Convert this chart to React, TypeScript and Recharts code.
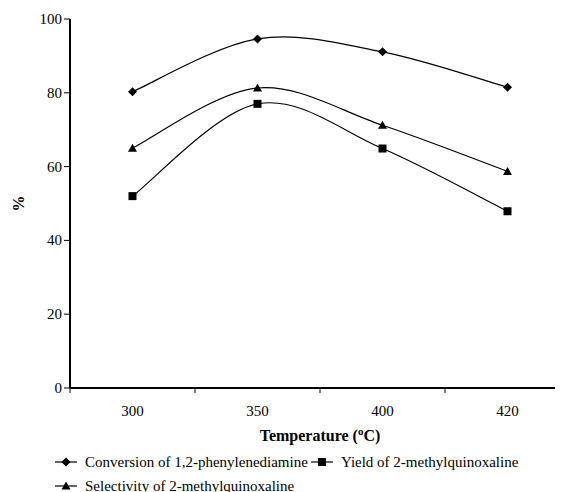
import React from "react";
import { LineChart, Line, XAxis, YAxis, Legend } from "recharts";

const temps = ["300", "350", "400", "420"];
const conversion = [80.3, 94.6, 91.1, 81.5];
const yieldVals = [52.0, 77.0, 64.9, 47.9];
const selectivity = [65.0, 81.3, 71.2, 58.7];
const yTicks = [0, 20, 40, 60, 80, 100];

const FONT = "Liberation Serif, Times New Roman, serif";

const data = temps.map((t, i) => ({
  idx: i,
  temp: t,
  conversion: conversion[i],
  yield: yieldVals[i],
  selectivity: selectivity[i],
}));

// Excel-like smoothing (Catmull-Rom through the points)
const excelSmooth = (ctx: any) => {
  let pts: [number, number][] = [];
  return {
    areaStart() {},
    areaEnd() {},
    lineStart() {
      pts = [];
    },
    point(x: number, y: number) {
      pts.push([+x, +y]);
    },
    lineEnd() {
      if (!pts.length) return;
      ctx.moveTo(pts[0][0], pts[0][1]);
      for (let i = 0; i < pts.length - 1; i++) {
        const p0 = pts[Math.max(i - 1, 0)];
        const p1 = pts[i];
        const p2 = pts[i + 1];
        const p3 = pts[Math.min(i + 2, pts.length - 1)];
        ctx.bezierCurveTo(
          p1[0] + (p2[0] - p0[0]) / 6,
          p1[1] + (p2[1] - p0[1]) / 6,
          p2[0] - (p3[0] - p1[0]) / 6,
          p2[1] - (p3[1] - p1[1]) / 6,
          p2[0],
          p2[1]
        );
      }
    },
  };
};

function Marker({ shape, cx, cy }: { shape: string; cx: number; cy: number }) {
  if (shape === "square") {
    return <rect x={cx - 4} y={cy - 4} width={8} height={8} fill="#000" />;
  }
  if (shape === "triangle") {
    return <polygon points={`${cx},${cy - 4.5} ${cx + 4.5},${cy + 3.5} ${cx - 4.5},${cy + 3.5}`} fill="#000" />;
  }
  return <polygon points={`${cx},${cy - 4.5} ${cx + 4.5},${cy} ${cx},${cy + 4.5} ${cx - 4.5},${cy}`} fill="#000" />;
}

const makeDot = (shape: string) => (p: any) =>
  <Marker key={`${shape}-${p.index}`} shape={shape} cx={p.cx} cy={p.cy} />;

const XTick = (props: any) => {
  const { x, y, payload } = props;
  const v = payload.value;
  if (Number.isInteger(v)) {
    return (
      <text x={x} y={y} dy={23} textAnchor="middle" fontSize={15} style={{ fontFamily: FONT }} fill="#000">
        {temps[v]}
      </text>
    );
  }
  return <line x1={x} x2={x} y1={y - 5} y2={y} stroke="#000" strokeWidth={1} />;
};

const YTick = (props: any) => {
  const { x, y, payload } = props;
  return (
    <text x={x} y={y} dy={5} textAnchor="end" fontSize={15} style={{ fontFamily: FONT }} fill="#000">
      {payload.value}
    </text>
  );
};

const TempLabel = (props: any) => {
  const { x, y, width } = props.viewBox;
  return (
    <text x={x + width / 2} y={y + 53} textAnchor="middle" fontSize={16} fontWeight="bold"
          style={{ fontFamily: FONT }} fill="#000">
      Temperature (<tspan fontSize={11} dy={-6}>o</tspan>
      <tspan dy={6}>C)</tspan>
    </text>
  );
};

const PctLabel = (props: any) => {
  const { y, height } = props.viewBox;
  const cx = 10;
  const cy = y + height / 2;
  return (
    <text x={cx} y={cy} transform={`rotate(-90 ${cx} ${cy})`} textAnchor="middle" dominantBaseline="central"
          fontSize={16} fontWeight="bold" style={{ fontFamily: FONT }} fill="#000">
      %
    </text>
  );
};

const legendItems = [
  { name: "Conversion of 1,2-phenylenediamine", shape: "diamond" },
  { name: "Yield of 2-methylquinoxaline", shape: "square" },
  { name: "Selectivity of 2-methylquinoxaline", shape: "triangle" },
];

const renderLegend = () => (
  <div style={{ display: "flex", flexWrap: "wrap", paddingLeft: 47, paddingTop: 2, fontFamily: FONT, fontSize: 15 }}>
    {legendItems.map((it) => (
      <div key={it.name} style={{ display: "flex", alignItems: "center", height: 24, marginRight: 3 }}>
        <svg width={22} height={10} style={{ marginRight: 8 }}>
          <line x1={0} x2={22} y1={5} y2={5} stroke="#000" strokeWidth={1.2} />
          <Marker shape={it.shape} cx={11} cy={5} />
        </svg>
        <span>{it.name}</span>
      </div>
    ))}
  </div>
);

export default function App() {
  return (
    <div style={{ width: 555, height: 484, overflow: "hidden" }}>
      <LineChart width={562} height={484} data={data} margin={{ top: 11, right: 0, bottom: 0, left: 0 }}>
        <XAxis
          dataKey="idx"
          type="number"
          domain={[-0.5, 3.5]}
          ticks={[-0.5, 0, 0.5, 1, 1.5, 2, 2.5, 3, 3.5]}
          interval={0}
          tickLine={false}
          tickSize={5}
          tickMargin={0}
          tick={<XTick />}
          axisLine={{ stroke: "#000", strokeWidth: 2 }}
          height={60}
          label={TempLabel}
        />
        <YAxis
          domain={[0, 100]}
          ticks={yTicks}
          interval={0}
          width={62}
          tickSize={6}
          tickMargin={2}
          tickLine={{ stroke: "#000" }}
          axisLine={{ stroke: "#000", strokeWidth: 2 }}
          tick={<YTick />}
          label={PctLabel}
        />
        <Legend verticalAlign="bottom" content={renderLegend} wrapperStyle={{ height: 44, left: 0 }} />
        <Line dataKey="conversion" type={excelSmooth as any} stroke="#000" strokeWidth={1.2}
              dot={makeDot("diamond")} activeDot={false} isAnimationActive={false} />
        <Line dataKey="yield" type={excelSmooth as any} stroke="#000" strokeWidth={1.2}
              dot={makeDot("square")} activeDot={false} isAnimationActive={false} />
        <Line dataKey="selectivity" type={excelSmooth as any} stroke="#000" strokeWidth={1.2}
              dot={makeDot("triangle")} activeDot={false} isAnimationActive={false} />
      </LineChart>
    </div>
  );
}
